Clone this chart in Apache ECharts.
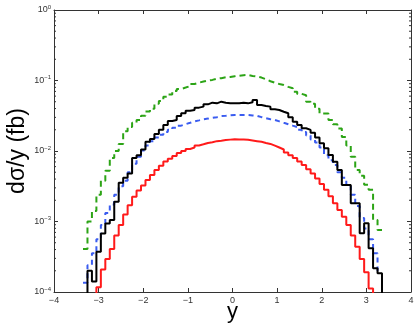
<!DOCTYPE html>
<html>
<head>
<meta charset="utf-8">
<script src="https://cdn.jsdelivr.net/npm/echarts@6/dist/echarts.min.js"></script>
<style>
  html, body { margin: 0; padding: 0; background: #fff; }
  #chart { width: 417px; height: 325px; }
</style>
</head>
<body>
<div id="chart"></div>
<script>
// bins of width 0.1, centres -3.3 ... 3.3 (67 bins)
var binStart = -3.35;
var binWidth = 0.1;
var xTicks = [-4, -3, -2, -1, 0, 1, 2, 3, 4];
var yDecades = [1e-4, 1e-3, 1e-2, 1e-1, 1];

// dσ/y (fb) per bin
var green = [4.07e-4, 1.00e-3, 1.41e-3, 2.40e-3, 3.80e-3, 5.25e-3, 7.94e-3, 1.00e-2, 1.26e-2, 1.91e-2,
  2.19e-2, 2.51e-2, 2.75e-2, 3.16e-2, 3.63e-2, 3.98e-2, 4.68e-2, 5.13e-2, 5.89e-2, 6.31e-2,
  7.08e-2, 7.59e-2, 7.94e-2, 8.32e-2, 8.91e-2, 9.33e-2, 9.66e-2, 1.00e-1, 1.02e-1, 1.06e-1,
  1.08e-1, 1.11e-1, 1.12e-1, 1.15e-1,
  1.17e-1, 1.19e-1, 1.20e-1, 1.16e-1, 1.14e-1, 1.10e-1, 1.04e-1, 9.77e-2, 9.33e-2, 8.91e-2,
  8.61e-2, 8.13e-2, 7.76e-2, 6.92e-2, 6.46e-2, 6.17e-2, 5.01e-2, 4.68e-2, 3.98e-2, 3.39e-2,
  3.39e-2, 2.75e-2, 2.40e-2, 2.09e-2, 1.58e-2, 1.20e-2, 8.32e-3, 5.37e-3, 4.47e-3, 3.31e-3,
  2.82e-3, 1.05e-3, 7.59e-4];

var black = [null, 2.0e-4, 1.41e-4, 3.72e-4, 6.76e-4, 9.33e-4, 1.05e-3, 1.91e-3, 3.55e-3, 4.17e-3,
  4.79e-3, 7.94e-3, 8.71e-3, 1.05e-2, 1.35e-2, 1.48e-2, 1.74e-2, 2.00e-2, 2.34e-2, 2.67e-2,
  2.75e-2, 3.14e-2, 3.43e-2, 3.73e-2, 3.82e-2, 4.12e-2, 4.26e-2, 4.59e-2, 4.85e-2, 4.74e-2,
  5.01e-2, 4.85e-2, 4.74e-2, 4.74e-2,
  4.74e-2, 4.85e-2, 4.74e-2, 4.90e-2, 5.30e-2, 4.50e-2, 4.36e-2, 4.26e-2, 3.90e-2, 3.82e-2,
  3.61e-2, 3.43e-2, 3.01e-2, 2.61e-2, 2.34e-2, 2.10e-2, 1.99e-2, 1.82e-2, 1.56e-2, 1.29e-2,
  1.09e-2, 8.79e-3, 7.06e-3, 5.38e-3, 3.30e-3, 3.30e-3, 1.81e-3, 1.81e-3, 6.79e-4, 9.42e-4,
  4.17e-4, 2.17e-4, 1.84e-4];

var blue = [1.35e-4, 2.40e-4, 3.55e-4, 5.62e-4, 8.91e-4, 1.32e-3, 1.74e-3, 2.40e-3, 3.16e-3, 3.80e-3,
  5.01e-3, 6.61e-3, 8.32e-3, 1.02e-2, 1.20e-2, 1.38e-2, 1.55e-2, 1.70e-2, 1.86e-2, 2.00e-2,
  2.14e-2, 2.29e-2, 2.40e-2, 2.51e-2, 2.63e-2, 2.72e-2, 2.82e-2, 2.88e-2, 2.95e-2, 3.02e-2,
  3.13e-2, 3.16e-2, 3.20e-2, 3.24e-2,
  3.24e-2, 3.24e-2, 3.24e-2, 3.20e-2, 3.16e-2, 3.02e-2, 2.92e-2, 2.82e-2, 2.75e-2, 2.63e-2,
  2.51e-2, 2.40e-2, 2.29e-2, 2.19e-2, 2.00e-2, 1.86e-2, 1.66e-2, 1.45e-2, 1.32e-2, 1.12e-2,
  8.71e-3, 7.41e-3, 6.31e-3, 5.01e-3, 4.17e-3, 3.16e-3, 2.40e-3, 1.66e-3, 1.12e-3, 7.94e-4,
  5.62e-4, 3.55e-4, 2.00e-4];

var red = [null, null, null, 1.17e-4, 2.09e-4, 2.95e-4, 4.07e-4, 6.31e-4, 8.91e-4, 1.26e-3,
  1.70e-3, 2.24e-3, 2.75e-3, 3.24e-3, 3.89e-3, 4.57e-3, 5.37e-3, 6.17e-3, 7.08e-3, 7.76e-3,
  8.51e-3, 9.33e-3, 1.00e-2, 1.07e-2, 1.12e-2, 1.20e-2, 1.245e-2, 1.30e-2, 1.33e-2, 1.38e-2,
  1.40e-2, 1.43e-2, 1.45e-2, 1.47e-2,
  1.46e-2, 1.45e-2, 1.44e-2, 1.41e-2, 1.38e-2, 1.35e-2, 1.30e-2, 1.26e-2, 1.19e-2, 1.12e-2,
  1.05e-2, 9.55e-3, 8.71e-3, 7.94e-3, 7.08e-3, 6.31e-3, 5.50e-3, 4.79e-3, 4.07e-3, 3.39e-3,
  2.82e-3, 2.29e-3, 1.82e-3, 1.45e-3, 1.17e-3, 8.91e-4, 6.31e-4, 4.37e-4, 2.95e-4, 1.91e-4,
  1.12e-4, null, null];

var floorVal = 1e-6; // below the axis, used for the drop to the frame

// turn per-bin values into stair points (left edges), optionally dropping to the axis
function stairs(vals, closed) {
  var first = -1, last = -1;
  vals.forEach(function (v, i) {
    if (v != null) { if (first < 0) first = i; last = i; }
  });
  var edge = function (i) { return +(binStart + i * binWidth).toFixed(3); };
  var pts = [];
  if (closed) pts.push([edge(first), floorVal]);
  for (var i = first; i <= last; i++) pts.push([edge(i), vals[i]]);
  pts.push([edge(last + 1), vals[last]]);
  if (closed) pts.push([edge(last + 1), floorVal]);
  return pts;
}

// minor tick positions on the log axis (2..9 in each decade)
var minorTicks = [];
yDecades.slice(0, -1).forEach(function (d) {
  for (var k = 2; k <= 9; k++) minorTicks.push([-4, +(k * d).toPrecision(2)]);
});

var font = 'Liberation Sans, Arial, sans-serif';
var axisColor = '#333';

function supLabel(v) {
  var e = Math.round(Math.log10(v));
  return '{b|10}{s|' + (e < 0 ? '\u2212' : '') + Math.abs(e) + '}';
}

var chart = echarts.init(document.getElementById('chart'), null, { renderer: 'canvas' });

var option = {
  animation: false,
  backgroundColor: '#fff',
  grid: { left: 54, right: 6, top: 10, bottom: 33, containLabel: false, outerBoundsMode: 'none' },
  xAxis: [
    {
      type: 'value', min: -4, max: 4, interval: 1,
      name: 'y', nameLocation: 'middle', nameGap: 9, nameMoveOverlap: false,
      nameTextStyle: { fontFamily: font, fontSize: 22, color: '#000' },
      axisLine: { show: true, onZero: false, lineStyle: { color: axisColor, width: 1 } },
      axisTick: { show: true, inside: true, length: 4, lineStyle: { color: axisColor } },
      axisLabel: {
        fontFamily: font, fontSize: 9, color: '#333', margin: 4,
        formatter: function (v) { return v < 0 ? '\u2212' + (-v) : String(v); }
      },
      splitLine: { show: false }
    },
    {
      type: 'value', position: 'top', min: -4, max: 4, interval: 1,
      axisLine: { show: true, onZero: false, lineStyle: { color: axisColor, width: 1 } },
      axisTick: { show: true, inside: true, length: 4, lineStyle: { color: axisColor } },
      axisLabel: { show: false },
      splitLine: { show: false }
    }
  ],
  yAxis: [
    {
      type: 'log', logBase: 10, min: 1e-4, max: 1,
      name: 'd\u03c3/y (fb)', nameLocation: 'middle', nameGap: 25, nameRotate: 90, nameMoveOverlap: false,
      nameTextStyle: { fontFamily: font, fontSize: 23, color: '#000' },
      axisLine: { show: true, onZero: false, lineStyle: { color: axisColor, width: 1 } },
      axisTick: { show: true, inside: true, length: 4, lineStyle: { color: axisColor } },
      axisLabel: {
        margin: 3, formatter: supLabel,
        rich: {
          b: { fontFamily: font, fontSize: 9, color: '#333', lineHeight: 12 },
          s: { fontFamily: font, fontSize: 6, color: '#333', lineHeight: 6, verticalAlign: 'top' }
        }
      },
      splitLine: { show: false }
    },
    {
      type: 'log', logBase: 10, min: 1e-4, max: 1, position: 'right',
      axisLine: { show: true, onZero: false, lineStyle: { color: axisColor, width: 1 } },
      axisTick: { show: true, inside: true, length: 4, lineStyle: { color: axisColor } },
      axisLabel: { show: false },
      splitLine: { show: false }
    }
  ],
  series: [
    {
      name: 'minor ticks', type: 'custom', silent: true, clip: false,
      xAxisIndex: 0, yAxisIndex: 0,
      encode: { x: 0, y: 1 },
      data: minorTicks,
      renderItem: function (params, api) {
        var y = api.coord([-4, api.value(1)])[1];
        var xl = api.coord([-4, 1])[0];
        var xr = api.coord([4, 1])[0];
        var st = { stroke: axisColor, lineWidth: 1 };
        return {
          type: 'group',
          children: [
            { type: 'line', shape: { x1: xl, y1: y, x2: xl + 2, y2: y }, style: st },
            { type: 'line', shape: { x1: xr, y1: y, x2: xr - 2, y2: y }, style: st }
          ]
        };
      }
    },
    {
      name: 'green', type: 'line', step: 'end', showSymbol: false, data: stairs(green, false),
      lineStyle: { color: '#2ca416', width: 2, type: [6, 4] }, z: 2
    },
    {
      name: 'blue', type: 'line', step: 'end', showSymbol: false, data: stairs(blue, false),
      lineStyle: { color: '#3a5cf0', width: 2, type: [5, 4] }, z: 3
    },
    {
      name: 'red', type: 'line', step: 'end', showSymbol: false, data: stairs(red, true),
      lineStyle: { color: '#ff1a1a', width: 2 }, z: 4
    },
    {
      name: 'black', type: 'line', step: 'end', showSymbol: false, data: stairs(black, true),
      lineStyle: { color: '#000', width: 2 }, z: 5
    }
  ]
};

chart.setOption(option);
</script>
</body>
</html>
